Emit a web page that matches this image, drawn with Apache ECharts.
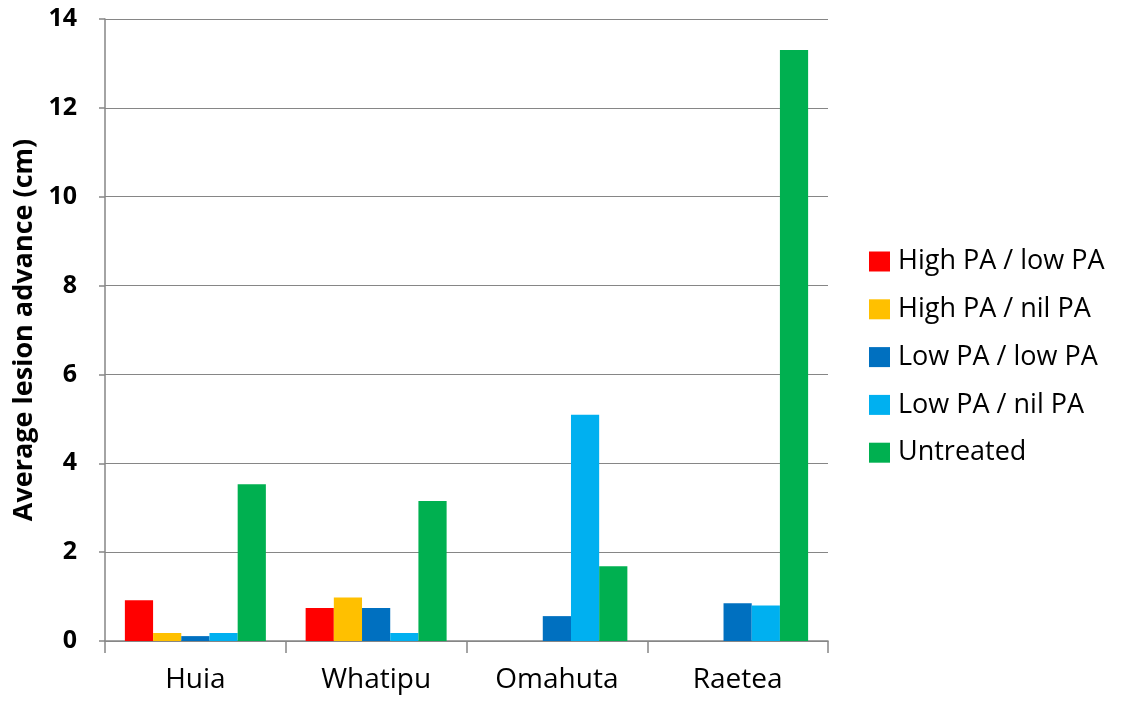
<!DOCTYPE html>
<html><head><meta charset="utf-8">
<script src="https://cdn.jsdelivr.net/npm/echarts@6/dist/echarts.min.js"></script>
<style>html,body{margin:0;padding:0;background:#fff}#c{width:1123px;height:701px}</style>
</head><body><div id="c"></div>
<script>
const categories = ['Huia', 'Whatipu', 'Omahuta', 'Raetea'];
const seriesNames = ['High PA / low PA', 'High PA / nil PA', 'Low PA / low PA', 'Low PA / nil PA', 'Untreated'];
const highLow = [0.92, 0.74, null, null];
const highNil = [0.18, 0.98, null, null];
const lowLow = [0.11, 0.74, 0.56, 0.85];
const lowNil = [0.18, 0.18, 5.09, 0.80];
const untreated = [3.53, 3.15, 1.68, 13.30];
const yTicks = [0, 2, 4, 6, 8, 10, 12, 14];
const colors = ['#FF0000', '#FFC000', '#0070C0', '#00B0F0', '#00B050'];
const values = [highLow, highNil, lowLow, lowNil, untreated];

const font = '"Open Sans", "Liberation Sans", Arial, sans-serif';
const chart = echarts.init(document.getElementById('c'));
chart.setOption({
  animation: false,
  backgroundColor: '#fff',
  grid: { left: 105, right: 295, top: 19, bottom: 60, containLabel: false, outerBoundsMode: 'none' },
  legend: {
    orient: 'vertical', left: 869, top: 248, padding: 0,
    itemWidth: 21, itemHeight: 20, itemGap: 20.8,
    icon: 'rect',
    textStyle: { fontFamily: font, fontSize: 27, color: '#000', lineHeight: 20, padding: [0, 0, 0, 3] },
    data: seriesNames
  },
  xAxis: {
    type: 'category', data: categories,
    axisLine: { lineStyle: { color: '#868686', width: 1.5 } },
    axisTick: { show: true, length: 12, alignWithLabel: false, lineStyle: { color: '#868686', width: 1.5 } },
    axisLabel: { fontFamily: font, fontSize: 28, color: '#000', margin: 25 }
  },
  yAxis: {
    type: 'value', min: yTicks[0], max: yTicks[yTicks.length - 1], interval: 2,
    name: 'Average lesion advance (cm)', nameLocation: 'middle', nameGap: 67,
    nameTextStyle: { fontFamily: font, fontSize: 27, fontWeight: 'bold', color: '#000' },
    axisLine: { show: true, lineStyle: { color: '#868686', width: 1.5 } },
    axisTick: { show: true, length: 6, lineStyle: { color: '#868686', width: 1.5 } },
    splitLine: { lineStyle: { color: '#868686', width: 1.2 } },
    axisLabel: { fontFamily: font, fontSize: 25, fontWeight: 'bold', color: '#000', margin: 28,
      formatter: v => yTicks.includes(v) ? String(v) : '' }
  },
  series: seriesNames.map((n, i) => ({
    name: n, type: 'bar', data: values[i], barGap: '0%', barCategoryGap: '22%',
    itemStyle: { color: colors[i] }
  }))
});
</script></body></html>
